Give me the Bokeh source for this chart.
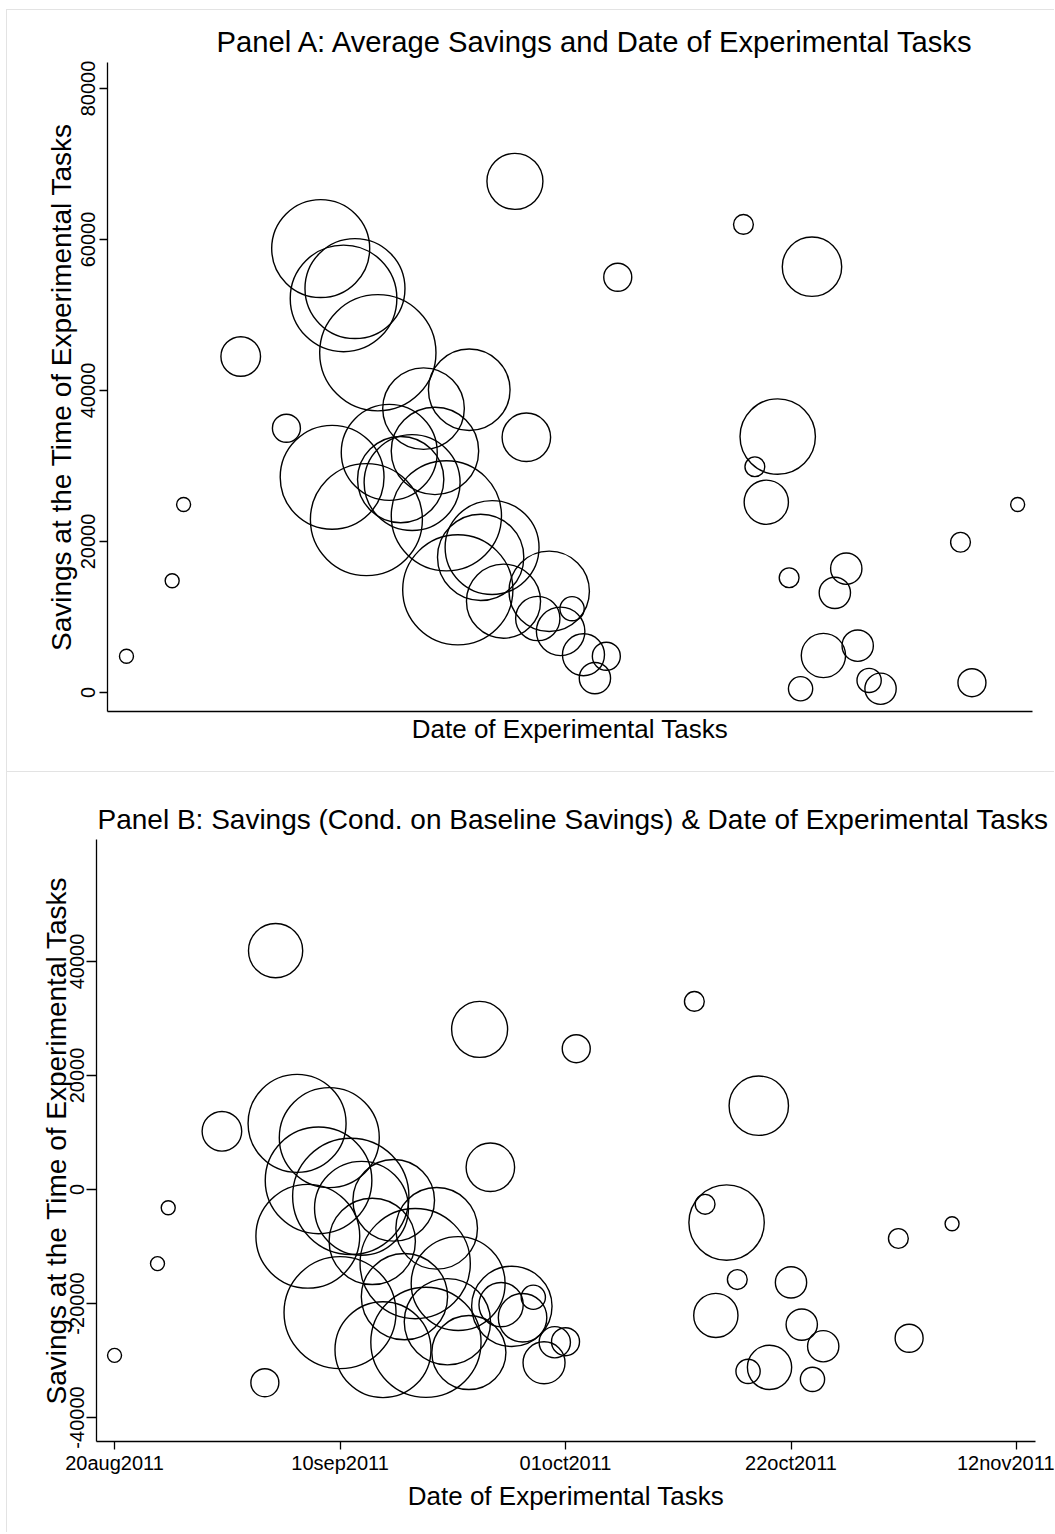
import pandas as pd
from bokeh.plotting import figure
from bokeh.layouts import column
from bokeh.models import FixedTicker, Range1d, BasicTickFormatter, ColumnDataSource
from bokeh.embed import file_html
from bokeh.resources import INLINE

ORIGIN = pd.Timestamp("2011-08-20")

# ---------------- Panel A data ----------------
a_dates = ["2011-08-20", "2011-08-24", "2011-08-25", "2011-08-30", "2011-09-03",
           "2011-09-06", "2011-09-07", "2011-09-08", "2011-09-09", "2011-09-10",
           "2011-09-11", "2011-09-12", "2011-09-13", "2011-09-14", "2011-09-15",
           "2011-09-16", "2011-09-17", "2011-09-18", "2011-09-19", "2011-09-20",
           "2011-09-21", "2011-09-22", "2011-09-23", "2011-09-24", "2011-09-25",
           "2011-09-26", "2011-09-27", "2011-09-28", "2011-09-29", "2011-09-30",
           "2011-10-01", "2011-10-02", "2011-10-13", "2011-10-14", "2011-10-15",
           "2011-10-16", "2011-10-17", "2011-10-18", "2011-10-19", "2011-10-20",
           "2011-10-21", "2011-10-22", "2011-10-23", "2011-10-24", "2011-10-25",
           "2011-11-01", "2011-11-02", "2011-11-06"]
a_savings = [4800, 14800, 24900, 44500, 35000,
             58800, 28500, 52200, 53500, 22900,
             45000, 31800, 28200, 27800, 37600,
             32000, 23400, 13600, 40100, 17900,
             19200, 12100, 67700, 33800, 9800,
             13400, 8100, 11100, 5000, 1900,
             4800, 55000, 62000, 29900, 25200,
             33900, 15200, 500, 56400, 4900,
             13200, 16400, 6200, 1600, 500,
             19900, 1300, 24900]
a_obs = [1, 1, 1, 8, 4,
         49, 55, 58, 51, 64,
         69, 47, 38, 47, 34,
         39, 62, 62, 34, 38,
         45, 28, 16, 12, 10,
         33, 12, 3, 9, 5,
         4, 4, 2, 2, 10,
         29, 2, 3, 18, 10,
         5, 5, 5, 3, 5,
         2, 4, 1]

# ---------------- Panel B data ----------------
b_dates = ["2011-08-20", "2011-08-24", "2011-08-25", "2011-08-30", "2011-09-03",
           "2011-09-04", "2011-09-06", "2011-09-07", "2011-09-08", "2011-09-09",
           "2011-09-10", "2011-09-11", "2011-09-12", "2011-09-13", "2011-09-14",
           "2011-09-15", "2011-09-16", "2011-09-17", "2011-09-18", "2011-09-19",
           "2011-09-20", "2011-09-21", "2011-09-22", "2011-09-23", "2011-09-24",
           "2011-09-25", "2011-09-26", "2011-09-27", "2011-09-28", "2011-09-29",
           "2011-09-30", "2011-10-01", "2011-10-02", "2011-10-13", "2011-10-14",
           "2011-10-15", "2011-10-16", "2011-10-17", "2011-10-18", "2011-10-19",
           "2011-10-20", "2011-10-22", "2011-10-23", "2011-10-24", "2011-10-25",
           "2011-11-01", "2011-11-02", "2011-11-06"]
b_savings = [-29100, -13000, -3200, 10200, -33900,
             41900, 11600, -8200, 1600, 9100,
             -21600, -1200, -3300, -9100, -28100,
             -1900, -18800, -13000, -26800, -6800,
             -23200, -16500, -28600, 28100, 3900,
             -20200, -20500, -22500, -18900, -30400,
             -26800, -26700, 24700, 33000, -2600,
             -22100, -5800, -15800, -31900, 14700,
             -31200, -16300, -23700, -33300, -27500,
             -8600, -26100, -6000]
b_obs = [1, 1, 1, 8, 4,
         15, 49, 55, 58, 51,
         64, 69, 45, 38, 47,
         34, 38, 62, 62, 34,
         38, 45, 28, 16, 12,
         10, 33, 12, 3, 9,
         5, 4, 4, 2, 2,
         10, 29, 2, 3, 18,
         10, 5, 5, 3, 5,
         2, 4, 1]

tick_dates = ["2011-08-20", "2011-09-10", "2011-10-01", "2011-10-22", "2011-11-12"]
tick_labels = ["20aug2011", "10sep2011", "01oct2011", "22oct2011", "12nov2011"]

a_ticks = [0, 20000, 40000, 60000, 80000]
b_ticks = [-40000, -20000, 0, 20000, 40000]

FONT = "Liberation Sans"
EDGE = "1px solid #e3e3e3"


def to_days(ds):
    return [(pd.Timestamp(d) - ORIGIN).days for d in ds]


def marker_size(obs):
    # area proportional to number of observations
    return [14.0 * (n ** 0.5) for n in obs]


def style(p):
    p.grid.visible = False
    p.outline_line_color = None
    p.background_fill_color = "white"
    p.border_fill_color = "white"
    p.title.align = "left"
    p.title.text_font = FONT
    p.title.text_font_style = "normal"
    p.title.text_font_size = "29.2px"
    p.title.text_color = "black"
    for ax in (p.xaxis, p.yaxis):
        ax.axis_line_color = "black"
        ax.axis_line_width = 1.3
        ax.major_tick_line_color = "black"
        ax.major_tick_line_width = 1.3
        ax.major_tick_in = 0
        ax.minor_tick_line_color = None
        ax.major_label_text_font = FONT
        ax.major_label_text_font_size = "20px"
        ax.major_label_text_color = "black"
        ax.axis_label_text_font = FONT
        ax.axis_label_text_font_style = "normal"
        ax.axis_label_text_font_size = "26px"
        ax.axis_label_text_color = "black"
    p.yaxis.major_label_orientation = "vertical"
    p.yaxis.formatter = BasicTickFormatter(use_scientific=False)
    p.yaxis.axis_label_text_font_size = "28px"


# ---------------- Panel A ----------------
pA = figure(width=1048, height=762, output_backend="svg", toolbar_location=None,
            x_range=Range1d(-1.66, 79.3), y_range=Range1d(-2517, 83444),
            min_border_left=100, min_border_right=23, min_border_top=52,
            min_border_bottom=61, frame_align=False,
            margin=(9, 0, 0, 6),
            styles={"border-top": EDGE, "border-left": EDGE},
            title="Panel A: Average Savings and Date of Experimental Tasks")
style(pA)
pA.title.offset = 109
srcA = ColumnDataSource(dict(x=to_days(a_dates), y=a_savings, s=marker_size(a_obs)))
pA.scatter("x", "y", size="s", source=srcA, marker="circle", fill_color=None,
           line_color="black", line_width=1.4)
pA.xaxis.ticker = FixedTicker(ticks=[])
pA.xaxis.major_tick_out = 0
pA.xaxis.axis_label = "Date of Experimental Tasks"
pA.xaxis.axis_label_standoff = 2
pA.yaxis.ticker = FixedTicker(ticks=a_ticks)
pA.yaxis.major_label_overrides = {t: str(t) for t in a_ticks}
pA.yaxis.major_tick_out = 8
pA.yaxis.major_label_standoff = 4
pA.yaxis.axis_label = "Savings at the Time of Experimental Tasks"
pA.yaxis.axis_label_standoff = 2

# ---------------- Panel B ----------------
pB = figure(width=1048, height=761, output_backend="svg", toolbar_location=None,
            x_range=Range1d(-1.68, 85.77), y_range=Range1d(-44211, 61404),
            min_border_left=89, min_border_right=20, min_border_top=67,
            min_border_bottom=92, frame_align=False,
            margin=(0, 0, 0, 6),
            styles={"border-top": EDGE, "border-left": EDGE},
            title="Panel B: Savings (Cond. on Baseline Savings) & Date of Experimental Tasks")
style(pB)
pB.title.text_font_size = "28px"
pB.title.offset = 1
srcB = ColumnDataSource(dict(x=to_days(b_dates), y=b_savings, s=marker_size(b_obs)))
pB.scatter("x", "y", size="s", source=srcB, marker="circle", fill_color=None,
           line_color="black", line_width=1.4)
tick_days = to_days(tick_dates)
pB.xaxis.ticker = FixedTicker(ticks=tick_days)
pB.xaxis.major_label_overrides = {d: lab for d, lab in zip(tick_days, tick_labels)}
pB.xaxis.major_tick_out = 8
pB.xaxis.major_label_standoff = 2
pB.xaxis.axis_label = "Date of Experimental Tasks"
pB.xaxis.axis_label_standoff = 4
pB.yaxis.ticker = FixedTicker(ticks=b_ticks)
pB.yaxis.major_label_overrides = {t: str(t) for t in b_ticks}
pB.yaxis.major_tick_out = 10
pB.yaxis.major_label_standoff = 2
pB.yaxis.axis_label = "Savings at the Time of Experimental Tasks"
pB.yaxis.axis_label_standoff = -4

layout = column(pA, pB, spacing=0)
open("out.html", "w").write(file_html(layout, INLINE))
